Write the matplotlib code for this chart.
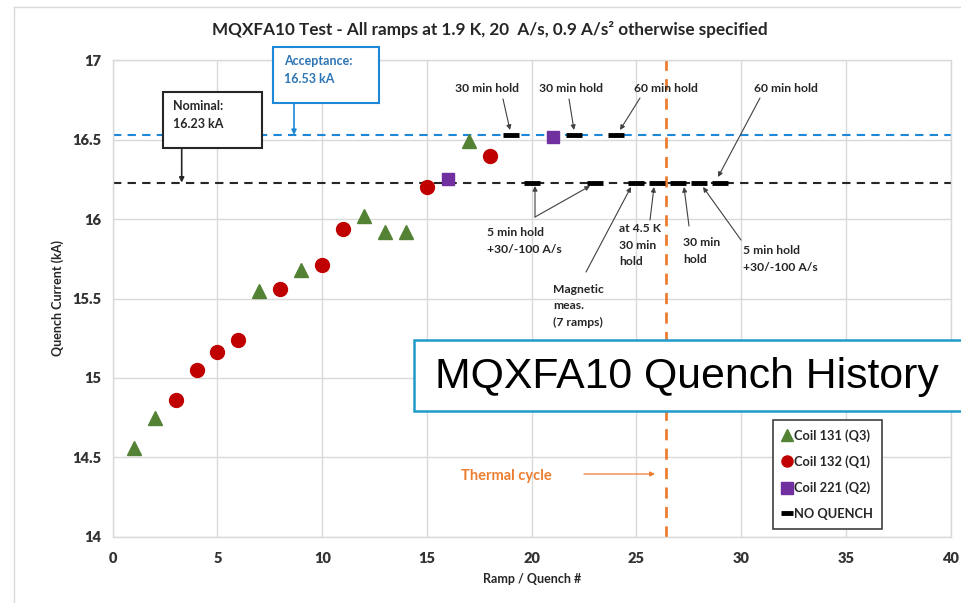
import matplotlib
matplotlib.use("Agg")
import matplotlib.pyplot as plt
from matplotlib.patches import Rectangle
from matplotlib.lines import Line2D

plt.rcParams['font.family'] = ['Lato', 'DejaVu Sans']

# ---- data ----
coil131_ramp = [1, 2, 7, 9, 12, 13, 14, 17]
coil131_I = [14.56, 14.75, 15.55, 15.68, 16.02, 15.92, 15.92, 16.49]
coil132_ramp = [3, 4, 5, 6, 8, 10, 11, 15, 18]
coil132_I = [14.86, 15.05, 15.16, 15.24, 15.56, 15.71, 15.94, 16.20, 16.40]
coil221_ramp = [16, 21]
coil221_I = [16.25, 16.52]
noq_ramp = [19, 20, 22, 23, 24, 25, 26, 27, 28, 29]
noq_I = [16.53, 16.23, 16.53, 16.23, 16.53, 16.23, 16.23, 16.23, 16.23, 16.23]
nominal = 16.23
acceptance = 16.53
thermal_cycle = 26.4

xticks = [0, 5, 10, 15, 20, 25, 30, 35, 40]
yticks = [14, 14.5, 15, 15.5, 16, 16.5, 17]
legend_labels = ['Coil 131 (Q3)', 'Coil 132 (Q1)', 'Coil 221 (Q2)', 'NO QUENCH']

W, H = 961, 603
fig = plt.figure(figsize=(W / 100, H / 100), dpi=100)
ax = fig.add_axes([112.7 / W, 1 - 536.7 / H, (950.7 - 112.7) / W, (536.7 - 60.3) / H])

def fx(px):
    return px / W

def fy(py):
    return 1 - py / H

def dx(px):
    return (px - 112.7) / (950.7 - 112.7) * 40

def dy(py):
    return 14 + (536.7 - py) / (536.7 - 60.3) * 3

GREEN = '#548235'
RED = '#C00000'
PURPLE = '#7030A0'
BLUE = '#1E88D8'
ORANGE = '#ED7D31'
TXT = '#262626'

ax.set_xlim(0, 40)
ax.set_ylim(14, 17)
ax.set_xticks(xticks)
ax.set_yticks(yticks)
ax.set_xticklabels([str(v) for v in xticks])
ax.set_yticklabels([('%g' % v) for v in yticks])
ax.grid(True, color='#d9d9d9', lw=1.0)
ax.set_axisbelow(True)
for s in ax.spines.values():
    s.set_color('#d9d9d9')
    s.set_linewidth(1.0)
ax.tick_params(length=0, labelsize=10.5, colors='#333333', pad=8)
for lab in ax.get_xticklabels() + ax.get_yticklabels():
    lab.set_fontweight('heavy')
ax.tick_params(axis='x', pad=11)

ax.set_xlabel('Ramp / Quench #', fontsize=9, fontweight='bold', color=TXT, labelpad=6)
ax.set_ylabel('Quench Current (kA)', fontsize=9, fontweight='bold', color=TXT, labelpad=6)

# reference lines
ax.axhline(acceptance, color=BLUE, ls=(0, (4, 3)), lw=1.5, zorder=2)
ax.axhline(nominal, color='#262626', ls=(0, (4, 3)), lw=1.5, zorder=2)
ax.axvline(thermal_cycle, color=ORANGE, ls=(0, (4, 3)), lw=2.0, zorder=2)

# data
ax.plot(coil131_ramp, coil131_I, ls='none', marker='^', ms=10.5, color=GREEN, zorder=4)
ax.plot(coil132_ramp, coil132_I, ls='none', marker='o', ms=10, color=RED, zorder=4)
ax.plot(coil221_ramp, coil221_I, ls='none', marker='s', ms=9, color=PURPLE, zorder=4)
ax.plot(noq_ramp, noq_I, ls='none', marker='_', ms=11, mew=3.5, color='black', zorder=4)

# title
fig.text(fx(490), fy(30), 'MQXFA10 Test - All ramps at 1.9 K, 20  A/s, 0.9 A/s\u00b2 otherwise specified',
         ha='center', va='center', fontsize=12.3, fontweight='bold', color=TXT)

# annotations
arrow = dict(arrowstyle='-|>', color='#404040', lw=0.8, mutation_scale=7, shrinkA=0, shrinkB=0)
afs = 8.7

def ann(text, tx, ty, ax_px, ay_px, px, py, ha='center', **kw):
    ax.annotate('', xy=(dx(px), dy(py)), xytext=(dx(ax_px), dy(ay_px)), arrowprops=arrow, zorder=5)
    ax.text(dx(tx), dy(ty), text, ha=ha, va='center', fontsize=afs, fontweight='bold',
            color=TXT, linespacing=1.6, zorder=5, **kw)

ann('30 min hold', 487, 88, 503, 99, 510, 130)
ann('30 min hold', 571, 88, 569, 99, 574, 130)
ann('60 min hold', 666, 88, 640, 98, 620, 130)
ann('60 min hold', 786, 88, 760, 98, 718, 177)

ax.annotate('', xy=(dx(535), dy(186)), xytext=(dx(535), dy(217)), arrowprops=arrow, zorder=5)
ax.annotate('', xy=(dx(590), dy(186)), xytext=(dx(535), dy(217)), arrowprops=arrow, zorder=5)
ax.text(dx(487), dy(241), '5 min hold\n+30/-100 A/s', ha='left', va='center', fontsize=afs,
        fontweight='bold', color=TXT, linespacing=1.6, zorder=5)

ann('Magnetic\nmeas.\n(7 ramps)', 553, 306, 586, 272, 631, 187, ha='left')
ann('at 4.5 K\n30 min\nhold', 619, 245, 650, 220, 654, 187, ha='left')
ann('30 min\nhold', 683, 251, 689, 226, 684, 187, ha='left')
ann('5 min hold\n+30/-100 A/s', 743, 259, 741, 240, 703, 187, ha='left')

# thermal cycle
ax.text(dx(461), dy(476), 'Thermal cycle', ha='left', va='center', fontsize=10.5,
        fontweight='bold', color=ORANGE, zorder=5)
ax.annotate('', xy=(dx(655), dy(474)), xytext=(dx(584), dy(474)),
            arrowprops=dict(arrowstyle='-|>', color=ORANGE, lw=0.9, mutation_scale=7,
                            shrinkA=0, shrinkB=0), zorder=5)

# nominal / acceptance boxes
fig.patches.append(Rectangle((fx(163), fy(148)), fx(262) - fx(163), fy(92) - fy(148),
                             transform=fig.transFigure, facecolor='white', edgecolor='#262626',
                             lw=1.5, zorder=3))
fig.text(fx(173), fy(106), 'Nominal:', ha='left', va='center', fontsize=9,
         fontweight='bold', color=TXT, zorder=4)
fig.text(fx(173), fy(124), '16.23 kA', ha='left', va='center', fontsize=9,
         fontweight='bold', color=TXT, zorder=4)
ax.annotate('', xy=(dx(181.7), nominal), xytext=(dx(181.7), dy(148)),
            arrowprops=dict(arrowstyle='-|>', color='#262626', lw=1.2, mutation_scale=7,
                            shrinkA=0, shrinkB=0), zorder=5)

fig.patches.append(Rectangle((fx(273), fy(103)), fx(379) - fx(273), fy(47) - fy(103),
                             transform=fig.transFigure, facecolor='white', edgecolor=BLUE,
                             lw=1.5, zorder=3))
fig.text(fx(284), fy(61), 'Acceptance:', ha='left', va='center', fontsize=9,
         fontweight='bold', color='#2E75B6', zorder=4)
fig.text(fx(284), fy(79), '16.53 kA', ha='left', va='center', fontsize=9,
         fontweight='bold', color='#2E75B6', zorder=4)
ax.annotate('', xy=(dx(294), acceptance), xytext=(dx(294), dy(103)),
            arrowprops=dict(arrowstyle='-|>', color=BLUE, lw=1.2, mutation_scale=7,
                            shrinkA=0, shrinkB=0), zorder=5, annotation_clip=False)

# legend
handles = [
    Line2D([], [], ls='none', marker='^', ms=8, color=GREEN),
    Line2D([], [], ls='none', marker='o', ms=8, color=RED),
    Line2D([], [], ls='none', marker='s', ms=8, color=PURPLE),
    Line2D([], [], ls='none', marker='_', ms=9, mew=3.5, color='black'),
]
leg = ax.legend(handles, legend_labels, loc='upper left', bbox_to_anchor=(fx(773), fy(420)),
                bbox_transform=fig.transFigure, fancybox=False, framealpha=1,
                edgecolor='#404040', handlelength=0.7, handletextpad=0.25,
                labelspacing=1.05, borderpad=0.7, borderaxespad=0,
                prop={'weight': 'bold', 'size': 9.3})
leg.get_frame().set_linewidth(1.2)
for t in leg.get_texts():
    t.set_color(TXT)

# big title box
fig.patches.append(Rectangle((fx(414), fy(411)), fx(990) - fx(414), fy(340) - fy(411),
                             transform=fig.transFigure, facecolor='white', edgecolor='#1F9BC9',
                             lw=1.8, zorder=6))
fig.text(fx(435), fy(377), 'MQXFA10 Quench History', ha='left', va='center', fontsize=30.8,
         family='Liberation Sans', color='black', zorder=7)

# outer border
fig.lines.append(Line2D([fx(14), fx(14)], [fy(7), 0], transform=fig.transFigure,
                        color='#d9d9d9', lw=1.0))
fig.lines.append(Line2D([fx(14), 1], [fy(7), fy(7)], transform=fig.transFigure,
                        color='#d9d9d9', lw=1.0))

fig.savefig('out.png', dpi=100)
